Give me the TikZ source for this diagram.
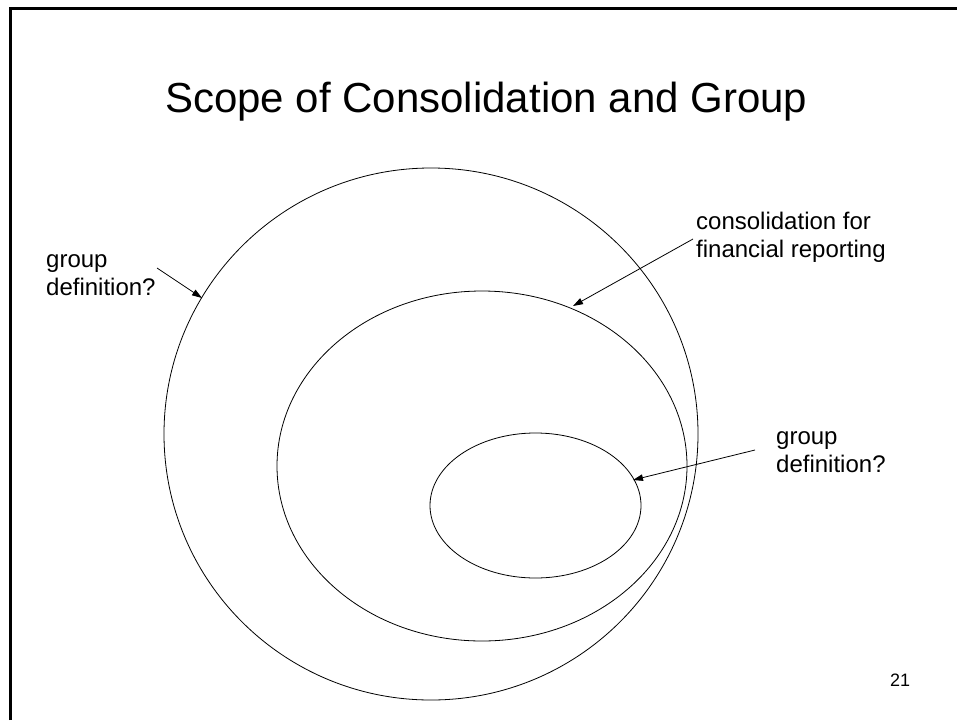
\documentclass[tikz,border=0pt]{standalone}
\usepackage{fontspec}
\setmainfont{Liberation Sans}
\usetikzlibrary{arrows.meta}
\begin{document}
\begin{tikzpicture}[x=1pt,y=-1pt,
  ring/.style={draw=black,line width=0.8pt},
  lbl/.style={inner sep=0pt,anchor=base west,align=left,font=\fontsize{24}{28}\selectfont},
  pointer/.style={draw=black,line width=0.8pt,-{Triangle[length=10pt,width=6.5pt]}},
  frameline/.style={draw=black,line width=2.5pt}]
\useasboundingbox (0,0) rectangle (957,720);
% slide frame (top and left edges)
\draw[frameline] (10.5,720) -- (10.5,8.5) -- (957,8.5);
% title
\node[inner sep=0pt,anchor=base west,font=\fontsize{42}{50}\selectfont] (title) at (165,112) {Scope of Consolidation and Group};
% ellipses
\draw[ring] (431,434) ellipse [x radius=267, y radius=266];
\draw[ring] (482,466) ellipse [x radius=205, y radius=175];
\draw[ring] (535.5,505.5) ellipse [x radius=105.5, y radius=72.5];
% labels (base anchor = baseline of last line)
\node[lbl] (lg) at (46,295) {group\\definition?};
\node[lbl] (lc) at (696,257) {consolidation for\\financial reporting};
\node[lbl] (lr) at (776,472) {group\\definition?};
\node[inner sep=0pt,anchor=base west,font=\fontsize{18}{22}\selectfont] (pg) at (890,686) {21};
% arrow ends
\coordinate (sg) at (157,268);
\coordinate (tg) at (202,298);
\coordinate (sc) at (693,239);
\coordinate (tc) at (573,306);
\coordinate (sr) at (755,450);
\coordinate (tr) at (633,480);
\draw[pointer] (sg) -- (tg);
\draw[pointer] (sc) -- (tc);
\draw[pointer] (sr) -- (tr);
\end{tikzpicture}
\end{document}
